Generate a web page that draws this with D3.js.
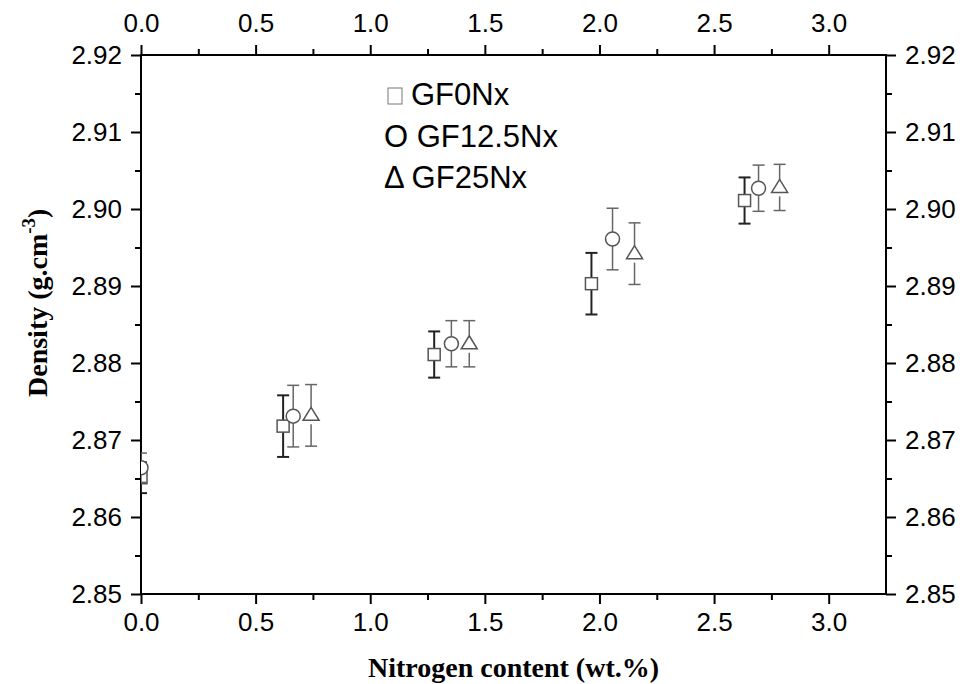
<!DOCTYPE html>
<html>
<head>
<meta charset="UTF-8">
<title>Density vs nitrogen content</title>
<script src="https://cdn.jsdelivr.net/npm/d3@7/dist/d3.min.js"></script>
<style>
  body { margin: 0; background: #fff; }
</style>
</head>
<body>
<div id="chart"></div>
<script>
// data
var xTicks = [0.0, 0.5, 1.0, 1.5, 2.0, 2.5, 3.0];
var xMinor = [0.25, 0.75, 1.25, 1.75, 2.25, 2.75];
var yTicks = [2.85, 2.86, 2.87, 2.88, 2.89, 2.90, 2.91, 2.92];
var yMinor = [2.855, 2.865, 2.875, 2.885, 2.895, 2.905, 2.915];

var gf0X = [0, 0.62, 1.279, 1.965, 2.633];
var gf0Y = [2.8651, 2.8718, 2.8811, 2.8903, 2.9011];
var gf0E = [0.002, 0.004, 0.003, 0.004, 0.003];

var gf12X = [0, 0.664, 1.354, 2.057, 2.694];
var gf12Y = [2.8664, 2.8731, 2.8825, 2.8961, 2.9027];
var gf12E = [0.0019, 0.004, 0.003, 0.004, 0.003];

var gf25X = [0.742, 1.432, 2.153, 2.786];
var gf25Y = [2.8732, 2.8825, 2.8942, 2.9028];
var gf25E = [0.004, 0.003, 0.004, 0.003];

var legendNames = ['GF0Nx', 'GF12.5Nx', 'GF25Nx'];

var W = 960, H = 684;
var L = 141, R = 886, T = 55, B = 594;
var sans = '"Liberation Sans", Arial, sans-serif';
var serif = '"Liberation Serif", "Times New Roman", serif';

var svg = d3.select('#chart').append('svg')
    .attr('width', W).attr('height', H);

var x = d3.scaleLinear().domain([0, 3.25]).range([L, R]);
var y = d3.scaleLinear().domain([2.85, 2.92]).range([B, T]);

var f1 = d3.format('.1f'), f2 = d3.format('.2f');

function styleAxis(g, size) {
    g.select('.domain').remove();
    g.selectAll('line').attr('stroke', '#000').attr('stroke-width', 2);
    g.selectAll('text').style('font-size', size + 'px').style('fill', '#000')
        .style('font-family', sans);
}

// major axes
svg.append('g').attr('transform', 'translate(0,' + B + ')')
    .call(d3.axisBottom(x).tickValues(xTicks).tickFormat(f1).tickSize(10).tickPadding(9))
    .call(styleAxis, 26);
svg.append('g').attr('transform', 'translate(0,' + T + ')')
    .call(d3.axisTop(x).tickValues(xTicks).tickFormat(f1).tickSize(10).tickPadding(13))
    .call(styleAxis, 26);
svg.append('g').attr('transform', 'translate(' + L + ',0)')
    .call(d3.axisLeft(y).tickValues(yTicks).tickFormat(f2).tickSize(10).tickPadding(9))
    .call(styleAxis, 26);
svg.append('g').attr('transform', 'translate(' + R + ',0)')
    .call(d3.axisRight(y).tickValues(yTicks).tickFormat(f2).tickSize(10).tickPadding(9))
    .call(styleAxis, 26);

// minor ticks
svg.append('g').attr('transform', 'translate(0,' + B + ')')
    .call(d3.axisBottom(x).tickValues(xMinor).tickFormat('').tickSize(6)).call(styleAxis, 0);
svg.append('g').attr('transform', 'translate(0,' + T + ')')
    .call(d3.axisTop(x).tickValues(xMinor).tickFormat('').tickSize(6)).call(styleAxis, 0);
svg.append('g').attr('transform', 'translate(' + L + ',0)')
    .call(d3.axisLeft(y).tickValues(yMinor).tickFormat('').tickSize(6)).call(styleAxis, 0);
svg.append('g').attr('transform', 'translate(' + R + ',0)')
    .call(d3.axisRight(y).tickValues(yMinor).tickFormat('').tickSize(6)).call(styleAxis, 0);

// frame
svg.append('rect')
    .attr('x', L).attr('y', T).attr('width', R - L).attr('height', B - T)
    .attr('fill', 'none').attr('stroke', '#000').attr('stroke-width', 2);

// clip points to plot area
svg.append('clipPath').attr('id', 'clip')
    .append('rect').attr('x', L).attr('y', T).attr('width', R - L).attr('height', B - T);
var plot = svg.append('g').attr('clip-path', 'url(#clip)');

var markStroke = '#555';

function drawSeries(xs, ys, es, shape, barColor, barWidth) {
    var data = d3.zip(xs, ys, es);
    // gap of the error bar above / below the marker centre
    var gap = shape === 'square' ? [6, 6] : shape === 'circle' ? [7, 7] : [8, 9];
    var g = plot.append('g');
    data.forEach(function (d) {
        var cx = x(d[0]), cy = y(d[1]);
        var yt = y(d[1] + d[2]), yb = y(d[1] - d[2]);
        var bars = g.append('g').attr('stroke', barColor).attr('stroke-width', barWidth);
        bars.append('line').attr('x1', cx).attr('x2', cx).attr('y1', yt).attr('y2', cy - gap[0]);
        bars.append('line').attr('x1', cx).attr('x2', cx).attr('y1', cy + gap[1]).attr('y2', yb);
        bars.append('line').attr('x1', cx - 6).attr('x2', cx + 6).attr('y1', yt).attr('y2', yt);
        bars.append('line').attr('x1', cx - 6).attr('x2', cx + 6).attr('y1', yb).attr('y2', yb);
        if (shape === 'square') {
            g.append('rect').attr('x', cx - 6).attr('y', cy - 6).attr('width', 12).attr('height', 12)
                .attr('fill', '#fff').attr('stroke', markStroke).attr('stroke-width', 1.5);
        } else if (shape === 'circle') {
            g.append('circle').attr('cx', cx).attr('cy', cy).attr('r', 7)
                .attr('fill', '#fff').attr('stroke', markStroke).attr('stroke-width', 1.5);
        } else {
            g.append('path')
                .attr('d', 'M' + cx + ',' + (cy - 8) + 'L' + (cx - 8) + ',' + (cy + 5) + 'L' + (cx + 8) + ',' + (cy + 5) + 'Z')
                .attr('fill', '#fff').attr('stroke', markStroke).attr('stroke-width', 1.5);
        }
    });
}

drawSeries(gf0X, gf0Y, gf0E, 'square', '#222', 2);
drawSeries(gf12X, gf12Y, gf12E, 'circle', '#666', 1.5);
drawSeries(gf25X, gf25Y, gf25E, 'triangle', '#666', 1.5);

// legend
var leg = svg.append('g').style('font-family', sans).style('font-size', '31px');
leg.append('rect').attr('x', 388).attr('y', 88).attr('width', 14).attr('height', 16)
    .attr('fill', 'none').attr('stroke', '#777').attr('stroke-width', 1);
leg.append('text').attr('x', 411).attr('y', 105).text(legendNames[0]);
leg.append('text').attr('x', 384).attr('y', 147).text('O ' + legendNames[1]);
leg.append('text').attr('x', 384).attr('y', 188).text('\u0394 ' + legendNames[2]);

// axis titles
svg.append('text')
    .attr('x', (L + R) / 2).attr('y', 677)
    .attr('text-anchor', 'middle')
    .style('font-family', serif)
    .style('font-weight', 'bold').style('font-size', '28px')
    .text('Nitrogen content (wt.%)');

var yl = svg.append('text')
    .attr('transform', 'translate(47,397) rotate(-90)')
    .attr('text-anchor', 'start')
    .style('font-family', serif)
    .style('font-weight', 'bold').style('font-size', '28px');
yl.append('tspan').text('Density (g.cm');
yl.append('tspan').attr('dy', -12).style('font-size', '19px').text('-3');
yl.append('tspan').attr('dy', 12).text(')');
</script>
</body>
</html>
